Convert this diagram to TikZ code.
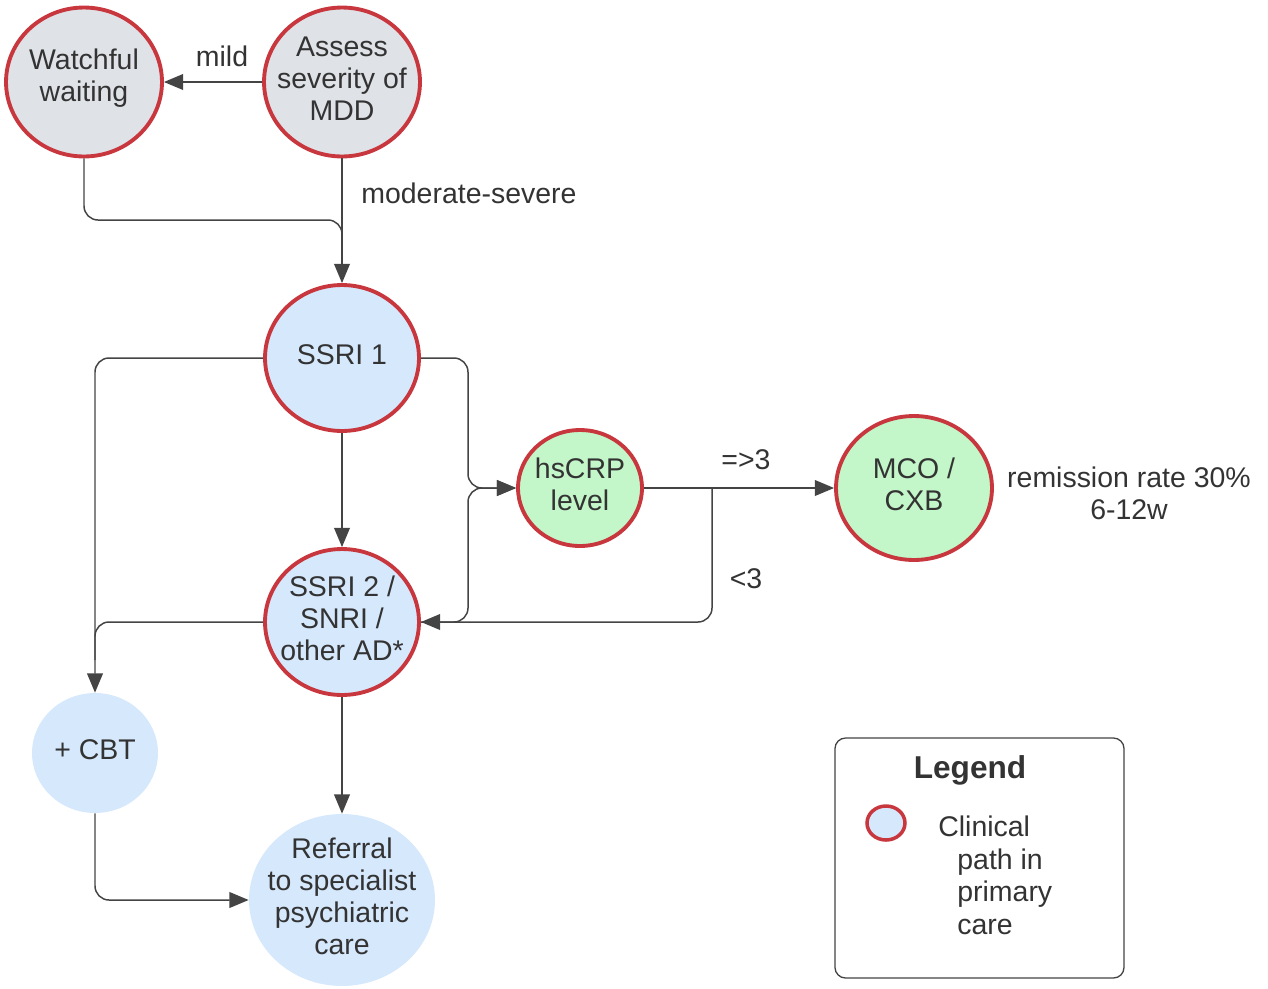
\documentclass[tikz,border=0pt]{standalone}
\usepackage{fontspec}
\setmainfont{Liberation Sans}
\usetikzlibrary{arrows.meta,shapes.geometric}

\definecolor{txt}{HTML}{333333}
\definecolor{wire}{HTML}{444444}
\definecolor{redb}{HTML}{C8373E}
\definecolor{grayf}{HTML}{DFE2E7}
\definecolor{bluef}{HTML}{D6E8FC}
\definecolor{greenf}{HTML}{C3F6C8}

\tikzset{
  lbl/.style={text=txt, inner sep=0pt, align=center,
    font=\fontsize{16.2}{18.2}\selectfont},
  % the ellipse keeps its given size; the text sits on top of it
  base/.style={ellipse, inner sep=0pt, label={[lbl, yshift=0.07cm]center:#1}},
  clin/.style={base=#1, draw=redb, line width=2.2pt},
  grayclin/.style={clin=#1, fill=grayf},
  blueclin/.style={clin=#1, fill=bluef},
  greenclin/.style={clin=#1, fill=greenf},
  blueplain/.style={base=#1, fill=bluef},
  conn/.style={draw=wire, line width=0.85pt, rounded corners=8pt},
  arr/.style={conn, -{Triangle[length=11pt,width=9pt]}}
}

\begin{document}
\begin{tikzpicture}[x=0.02cm,y=-0.02cm]
\useasboundingbox (0,0) rectangle (1268,988);

% nodes of the clinical path
\node[grayclin={Watchful\\waiting}, minimum width=3.12cm, minimum height=2.98cm] (ww) at (84,82) {};
\node[grayclin={Assess\\severity of\\MDD}, minimum width=3.12cm, minimum height=2.98cm] (as) at (342,82) {};
\node[blueclin={SSRI 1}, minimum width=3.08cm, minimum height=2.92cm] (s1) at (342,358) {};
\node[blueclin={SSRI 2 /\\SNRI /\\other AD*}, minimum width=3.08cm, minimum height=2.92cm] (s2) at (342,622) {};
\node[greenclin={hsCRP\\level}, minimum width=2.48cm, minimum height=2.32cm] (hs) at (580,488) {};
\node[greenclin={MCO /\\CXB}, minimum width=3.12cm, minimum height=2.88cm] (mco) at (914,488) {};
\node[blueplain={+ CBT}, minimum width=2.52cm, minimum height=2.40cm] (cbt) at (95,753) {};
\node[blueplain={Referral\\to specialist\\psychiatric\\care}, minimum width=3.72cm, minimum height=3.44cm] (ref) at (342,900) {};

% junction points
\coordinate (j1) at (342,250);
\coordinate (j2) at (95,660);
\coordinate (br) at (712,488);

% connectors
\draw[arr] (as.west) -- (ww.east);
\draw[arr] (as.south) -- (s1.north);
\draw[conn] (ww.south) |- (342,220) -- (j1);
\draw[arr] (s1.south) -- (s2.north);
\draw[arr] (s2.south) -- (ref.north);
\draw[arr] (s1.west) -| (cbt.north);
\draw[conn] (s2.west) -| (j2);
\draw[arr] (cbt.south) |- (ref.west);
\draw[arr] (s1.east) -- (468,358) -- (468,488) -- (hs.west);
\draw[arr] (s2.east) -- (468,622) -- (468,488) -- (hs.west);
\draw[arr] (hs.east) -- (mco.west);
\draw[arr] (br) |- (s2.east);

% connector labels
\node[lbl] (lmild) at (222,56) {mild};
\node[lbl, anchor=west] (lmod) at (361,193) {moderate-severe};
\node[lbl] (lhi) at (746,460) {=>3};
\node[lbl] (llo) at (746,579) {<3};
\node[lbl] (lrem) at (1129,493) {remission rate 30\%\\6-12w};

% legend
\draw[draw=wire, line width=0.75pt, rounded corners=6pt] (835,738) rectangle (1124,978);
\node[text=txt, inner sep=0pt, font=\fontsize{18}{21}\selectfont\bfseries] (lg) at (970,770) {Legend};
\node[ellipse, draw=redb, fill=bluef, line width=2pt, inner sep=0pt,
      minimum width=0.76cm, minimum height=0.68cm] (lgc) at (886,823) {};
\node[text=txt, inner sep=0pt, anchor=north west, align=left,
      font=\fontsize{16.2}{18.2}\selectfont] (lgt) at (938,816)
  {Clinical\\[0.3pt]\hspace*{0.38cm}path in\\[0.3pt]\hspace*{0.38cm}primary\\[0.3pt]\hspace*{0.38cm}care};
\end{tikzpicture}
\end{document}
